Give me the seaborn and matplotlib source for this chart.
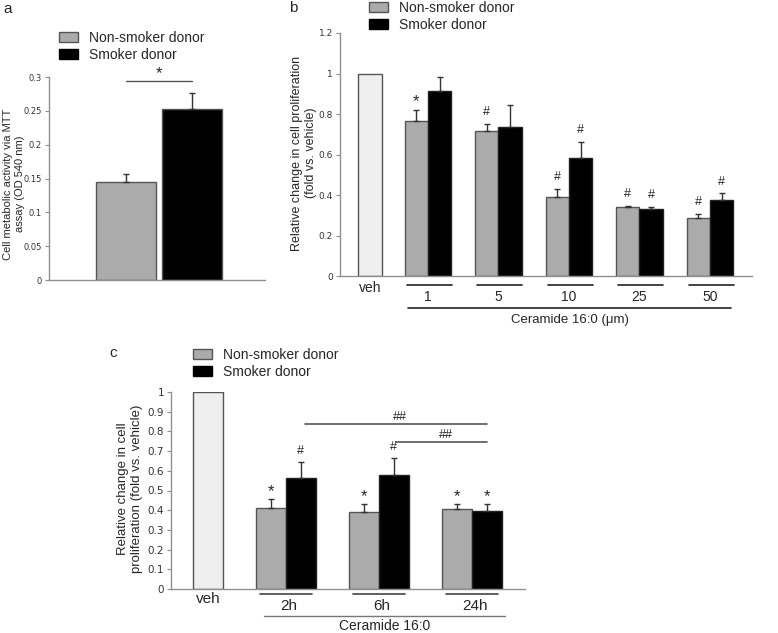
import numpy as np
import pandas as pd
import matplotlib
matplotlib.use("Agg")
import matplotlib.pyplot as plt
from matplotlib.patches import Patch
import seaborn as sns

sns.set_style("ticks")
plt.rcParams["font.family"] = ["Liberation Sans", "DejaVu Sans"]

W, H = 778, 633
NON_COL = "#ababab"
SMK_COL = "#000000"
VEH_COL = "#efefef"
EDGE = "#555555"
SPINE = "#8f8f8f"
TICK_COL = "#333333"

# panel a - MTT assay
donors = ["Non-smoker donor", "Smoker donor"]
mtt_mean = [0.145, 0.253]
mtt_err = [0.012, 0.023]
mtt_sig_y = 0.294

# panel b - ceramide dose
conc_labels = ["1", "5", "10", "25", "50"]
b_veh = 1.0
b_non_mean = [0.764, 0.718, 0.391, 0.339, 0.284]
b_non_err = [0.058, 0.035, 0.041, 0.008, 0.022]
b_smk_mean = [0.916, 0.735, 0.582, 0.329, 0.375]
b_smk_err = [0.067, 0.107, 0.080, 0.013, 0.033]
b_non_marks = ["*", "#", "#", "#", "#"]
b_smk_marks = ["", "", "#", "#", "#"]

# panel c - ceramide time course
time_labels = ["2h", "6h", "24h"]
c_veh = 1.0
c_non_mean = [0.413, 0.389, 0.407]
c_non_err = [0.044, 0.042, 0.024]
c_smk_mean = [0.562, 0.581, 0.397]
c_smk_err = [0.081, 0.083, 0.034]
c_non_marks = ["*", "*", "*"]
c_smk_marks = ["#", "#", "*"]
# (from group, to group, height, label)
c_brackets = [(1.2, 3.16, 0.838, "##"), (2.18, 3.16, 0.746, "##")]


def px_axes(left, top, right, bottom):
    return [left / W, 1 - bottom / H, (right - left) / W, (bottom - top) / H]


def style_axis(ax, ticks, fs):
    sns.despine(ax=ax)
    for s in ["left", "bottom"]:
        ax.spines[s].set_color(SPINE)
        ax.spines[s].set_linewidth(1)
    ax.set_yticks(ticks)
    ax.set_yticklabels([f"{t:g}" for t in ticks], fontsize=fs, color=TICK_COL,
                       family="DejaVu Sans")
    ax.tick_params(axis="y", length=3, width=0.8, color=SPINE, pad=2)
    ax.set_xticks([])
    ax.set_xlabel("")
    ax.set_ylabel("")


def add_marks(ax, xs, tops, marks):
    for x, t, m in zip(xs, tops, marks):
        if not m:
            continue
        size = 12 if m == "*" else 9
        off = 0 if m == "*" else 4
        ax.annotate(m, (x, t), xytext=(0, off), textcoords="offset points",
                    ha="center", va="bottom", fontsize=size)


def grouped_bars(ax, veh, non_mean, non_err, smk_mean, smk_err, veh_pos, width):
    groups = np.arange(1, len(non_mean) + 1)
    xs_non = groups - width / 2
    xs_smk = groups + width / 2
    sns.barplot(data=pd.DataFrame({"x": [veh_pos], "y": [veh]}), x="x", y="y",
                native_scale=True, orient="x", width=width + 0.01, color=VEH_COL,
                saturation=1, edgecolor=EDGE, linewidth=1, errorbar=None, ax=ax)
    sns.barplot(data=pd.DataFrame({"x": xs_non, "y": non_mean}), x="x", y="y",
                native_scale=True, orient="x", width=width, color=NON_COL,
                saturation=1, edgecolor=EDGE, linewidth=1, errorbar=None, ax=ax)
    sns.barplot(data=pd.DataFrame({"x": xs_smk, "y": smk_mean}), x="x", y="y",
                native_scale=True, orient="x", width=width, color=SMK_COL,
                saturation=1, edgecolor="#222222", linewidth=1, errorbar=None, ax=ax)
    zeros = np.zeros(len(groups))
    ax.errorbar(xs_non, non_mean, yerr=[zeros, non_err], fmt="none",
                ecolor="#333333", elinewidth=1, capsize=2.5, capthick=1)
    ax.errorbar(xs_smk, smk_mean, yerr=[zeros, smk_err], fmt="none",
                ecolor="#333333", elinewidth=1, capsize=2.5, capthick=1)
    return groups, xs_non, xs_smk


def legend(fig, left, top, edge_non):
    handles = [Patch(facecolor=NON_COL, edgecolor=edge_non, linewidth=1),
               Patch(facecolor=SMK_COL, edgecolor=SMK_COL, linewidth=1)]
    fig.legend(handles=handles, labels=donors, loc="upper left",
               bbox_to_anchor=(left / W, 1 - top / H), frameon=False,
               fontsize=10, handlelength=1.4, handleheight=0.8,
               handletextpad=0.75, labelspacing=0.2, borderpad=0,
               borderaxespad=0)


fig = plt.figure(figsize=(W / 100, H / 100), dpi=100)

# ---------------- panel a ----------------
ax_a = fig.add_axes(px_axes(49, 77, 265, 280))
sns.barplot(x=donors, y=mtt_mean, hue=donors, palette=[NON_COL, SMK_COL],
            saturation=1, width=0.91, edgecolor=EDGE, linewidth=1,
            errorbar=None, legend=False, ax=ax_a)
ax_a.errorbar([0, 1], mtt_mean, yerr=[[0, 0], mtt_err], fmt="none",
              ecolor="#333333", elinewidth=1, capsize=2.5, capthick=1)
ax_a.plot([0, 1], [mtt_sig_y, mtt_sig_y], color="#555555", lw=1, clip_on=False)
ax_a.text(0.5, mtt_sig_y, "*", ha="center", va="bottom", fontsize=12)
ax_a.set_xlim(-1.16, 2.11)
ax_a.set_ylim(0, 0.3)
style_axis(ax_a, np.arange(0, 0.301, 0.05), 6)
fig.text(14 / W, 1 - 184 / H, "Cell metabolic activity via MTT\nassay (OD 540 nm)",
         rotation=90, ha="center", va="center", multialignment="center", fontsize=8)
legend(fig, 59, 31, EDGE)
fig.text(8 / W, 1 - 9 / H, "a", ha="center", va="center", fontsize=11)

# ---------------- panel b ----------------
ax_b = fig.add_axes(px_axes(340, 33, 752, 276))
bw = 0.333
veh_b = 0.177
groups_b, xn_b, xs_b = grouped_bars(ax_b, b_veh, b_non_mean, b_non_err,
                                    b_smk_mean, b_smk_err, veh_b, bw)
add_marks(ax_b, xn_b, np.add(b_non_mean, b_non_err), b_non_marks)
add_marks(ax_b, xs_b, np.add(b_smk_mean, b_smk_err), b_smk_marks)
ax_b.set_xlim(-0.248, 5.596)
ax_b.set_ylim(0, 1.2)
style_axis(ax_b, np.arange(0, 1.201, 0.2), 6.5)
tb = ax_b.get_xaxis_transform()
ax_b.text(veh_b, -0.048, "veh", transform=tb, ha="center", va="center", fontsize=10)
for g, lab in zip(groups_b, conc_labels):
    ax_b.plot([g - 0.3, g + 0.34], [-0.037, -0.037], transform=tb, color="#222222",
              lw=1.2, clip_on=False)
    ax_b.text(g, -0.088, lab, transform=tb, ha="center", va="center", fontsize=10)
ax_b.plot([groups_b[0] - 0.284, groups_b[-1] + 0.298], [-0.132, -0.132], transform=tb,
          color="#222222", lw=1.2, clip_on=False)
ax_b.text(3.007, -0.182, "Ceramide 16:0 (μm)", transform=tb, ha="center",
          va="center", fontsize=9.5)
fig.text(304 / W, 1 - 153 / H, "Relative change in cell proliferation\n(fold vs. vehicle)",
         rotation=90, ha="center", va="center", multialignment="center", fontsize=9)
legend(fig, 369, 1, EDGE)
fig.text(293 / W, 1 - 8 / H, "b", ha="center", va="center", fontsize=11)

# ---------------- panel c ----------------
ax_c = fig.add_axes(px_axes(171, 392, 525, 589))
cw = 0.32
veh_c = 0.161
groups_c, xn_c, xs_c = grouped_bars(ax_c, c_veh, c_non_mean, c_non_err,
                                    c_smk_mean, c_smk_err, veh_c, cw)
add_marks(ax_c, xn_c, np.add(c_non_mean, c_non_err), c_non_marks)
add_marks(ax_c, xs_c, np.add(c_smk_mean, c_smk_err), c_smk_marks)
for x0, x1, y, lab in c_brackets:
    ax_c.plot([x0, x1], [y, y], color="#555555", lw=1.2, clip_on=False)
    ax_c.annotate(lab, ((x0 + x1) / 2 + 0.05, y), xytext=(0, 1),
                  textcoords="offset points", ha="center", va="bottom", fontsize=9)
ax_c.set_xlim(-0.237, 3.57)
ax_c.set_ylim(0, 1.0)
style_axis(ax_c, np.arange(0, 1.001, 0.1), 7.5)
tc = ax_c.get_xaxis_transform()
ax_c.text(veh_c, -0.05, "veh", transform=tc, ha="center", va="center", fontsize=11)
for g, lab in zip(groups_c, time_labels):
    ax_c.plot([g - 0.28, g + 0.28], [-0.025, -0.025], transform=tc, color="#444444",
              lw=1.2, clip_on=False)
    ax_c.text(g + 0.03, -0.088, lab, transform=tc, ha="center", va="center", fontsize=11)
ax_c.plot([groups_c[0] - 0.237, groups_c[-1] + 0.355], [-0.137, -0.137], transform=tc,
          color="#777777", lw=1, clip_on=False)
ax_c.text(2.06, -0.19, "Ceramide 16:0", transform=tc, ha="center", va="center",
          fontsize=10)
fig.text(130 / W, 1 - 489 / H, "Relative change in cell\nproliferation (fold vs. vehicle)",
         rotation=90, ha="center", va="center", multialignment="center", fontsize=9.5)
legend(fig, 193, 348, EDGE)
fig.text(113 / W, 1 - 353 / H, "c", ha="center", va="center", fontsize=11)

fig.savefig("out.png", dpi=100)
